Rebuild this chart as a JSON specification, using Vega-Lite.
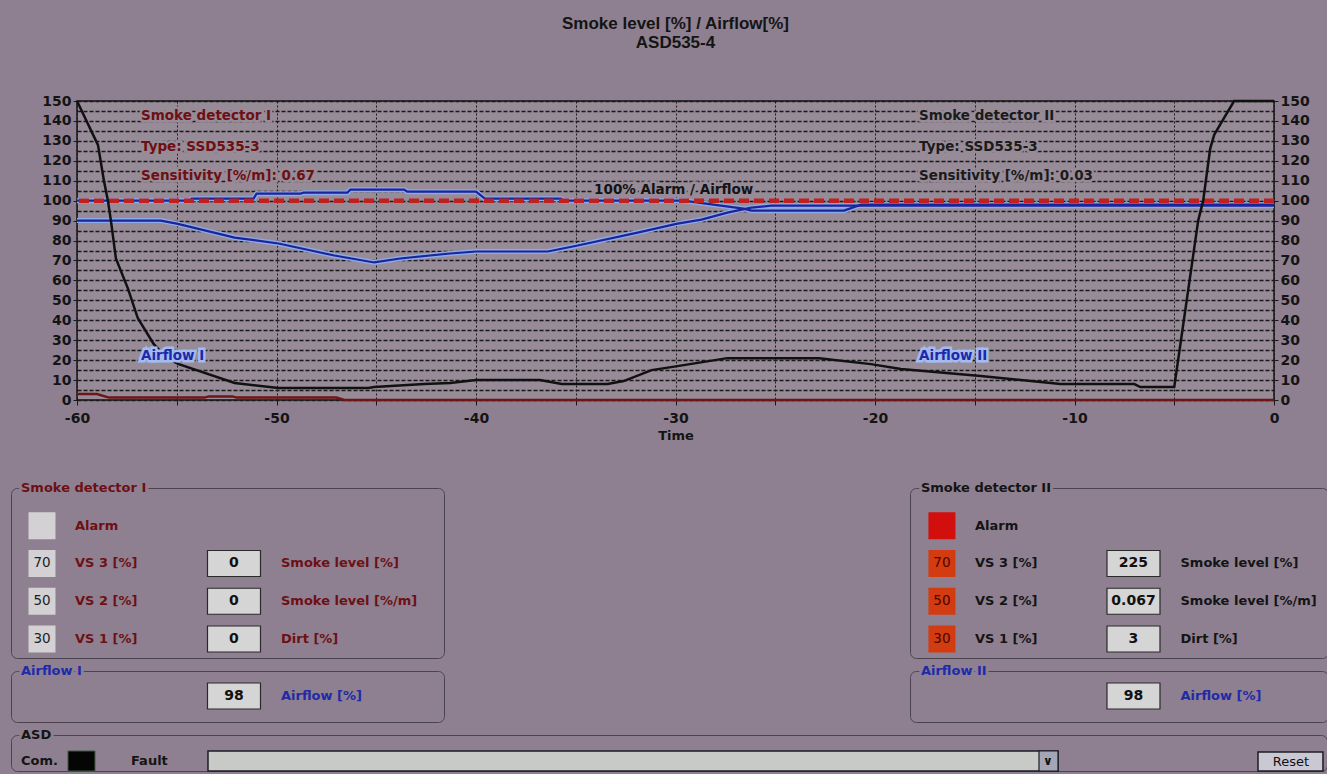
{
  "$schema": "https://vega.github.io/schema/vega-lite/v6.json",
  "background": "#8e8090",
  "padding": {"left": 10, "top": 14, "right": 0, "bottom": 0},
  "config": {"font": "DejaVu Sans", "view": {"stroke": null}},
  "datasets": {
    "lines": [
      {"series": "Airflow II", "Time": -60, "Value": 100},
      {"series": "Airflow II", "Time": -54.35, "Value": 100},
      {"series": "Airflow II", "Time": -54.25, "Value": 101},
      {"series": "Airflow II", "Time": -51.15, "Value": 101},
      {"series": "Airflow II", "Time": -51.0, "Value": 103.5},
      {"series": "Airflow II", "Time": -48.8, "Value": 103.5},
      {"series": "Airflow II", "Time": -48.65, "Value": 104},
      {"series": "Airflow II", "Time": -46.45, "Value": 104},
      {"series": "Airflow II", "Time": -46.3, "Value": 105.5},
      {"series": "Airflow II", "Time": -43.6, "Value": 105.5},
      {"series": "Airflow II", "Time": -43.45, "Value": 104.5},
      {"series": "Airflow II", "Time": -40.0, "Value": 104.5},
      {"series": "Airflow II", "Time": -39.55, "Value": 101},
      {"series": "Airflow II", "Time": -35.75, "Value": 101},
      {"series": "Airflow II", "Time": -35.6, "Value": 100},
      {"series": "Airflow II", "Time": -29.6, "Value": 100},
      {"series": "Airflow II", "Time": -26.6, "Value": 96},
      {"series": "Airflow II", "Time": -26.2, "Value": 95},
      {"series": "Airflow II", "Time": -21.55, "Value": 95},
      {"series": "Airflow II", "Time": -20.7, "Value": 98},
      {"series": "Airflow II", "Time": 0, "Value": 98},
      {"series": "Airflow I", "Time": -60, "Value": 90},
      {"series": "Airflow I", "Time": -55.8, "Value": 90},
      {"series": "Airflow I", "Time": -55.0, "Value": 88.5},
      {"series": "Airflow I", "Time": -52.1, "Value": 81.5},
      {"series": "Airflow I", "Time": -49.9, "Value": 78.5},
      {"series": "Airflow I", "Time": -47.1, "Value": 72.5},
      {"series": "Airflow I", "Time": -45.1, "Value": 69},
      {"series": "Airflow I", "Time": -43.8, "Value": 71},
      {"series": "Airflow I", "Time": -41.3, "Value": 73.5},
      {"series": "Airflow I", "Time": -40.0, "Value": 74.5},
      {"series": "Airflow I", "Time": -36.4, "Value": 74.5},
      {"series": "Airflow I", "Time": -34.9, "Value": 77.5},
      {"series": "Airflow I", "Time": -31.9, "Value": 84},
      {"series": "Airflow I", "Time": -29.9, "Value": 88.5},
      {"series": "Airflow I", "Time": -28.7, "Value": 90.5},
      {"series": "Airflow I", "Time": -27.4, "Value": 94},
      {"series": "Airflow I", "Time": -26.2, "Value": 96.5},
      {"series": "Airflow I", "Time": -25.2, "Value": 97.5},
      {"series": "Airflow I", "Time": 0, "Value": 97.5},
      {"series": "Smoke I", "Time": -60, "Value": 3},
      {"series": "Smoke I", "Time": -59.0, "Value": 3},
      {"series": "Smoke I", "Time": -58.4, "Value": 1.2},
      {"series": "Smoke I", "Time": -53.6, "Value": 1.2},
      {"series": "Smoke I", "Time": -53.4, "Value": 1.8},
      {"series": "Smoke I", "Time": -52.2, "Value": 1.8},
      {"series": "Smoke I", "Time": -52.0, "Value": 1.2},
      {"series": "Smoke I", "Time": -47.0, "Value": 1.2},
      {"series": "Smoke I", "Time": -46.6, "Value": 0},
      {"series": "Smoke I", "Time": 0, "Value": 0},
      {"series": "Smoke II", "Time": -60, "Value": 150},
      {"series": "Smoke II", "Time": -58.95, "Value": 128},
      {"series": "Smoke II", "Time": -58.65, "Value": 110},
      {"series": "Smoke II", "Time": -58.45, "Value": 100},
      {"series": "Smoke II", "Time": -58.3, "Value": 90},
      {"series": "Smoke II", "Time": -58.05, "Value": 71},
      {"series": "Smoke II", "Time": -57.45, "Value": 56},
      {"series": "Smoke II", "Time": -56.95, "Value": 41},
      {"series": "Smoke II", "Time": -56.15, "Value": 28},
      {"series": "Smoke II", "Time": -55.5, "Value": 21},
      {"series": "Smoke II", "Time": -54.9, "Value": 18},
      {"series": "Smoke II", "Time": -52.1, "Value": 8.5},
      {"series": "Smoke II", "Time": -49.9, "Value": 6},
      {"series": "Smoke II", "Time": -45.4, "Value": 6},
      {"series": "Smoke II", "Time": -45.1, "Value": 6.5},
      {"series": "Smoke II", "Time": -42.6, "Value": 8},
      {"series": "Smoke II", "Time": -41.3, "Value": 8.5},
      {"series": "Smoke II", "Time": -40.0, "Value": 10},
      {"series": "Smoke II", "Time": -36.8, "Value": 10},
      {"series": "Smoke II", "Time": -35.7, "Value": 8},
      {"series": "Smoke II", "Time": -33.4, "Value": 8},
      {"series": "Smoke II", "Time": -32.6, "Value": 9.5},
      {"series": "Smoke II", "Time": -31.2, "Value": 15},
      {"series": "Smoke II", "Time": -29.9, "Value": 17},
      {"series": "Smoke II", "Time": -27.4, "Value": 21},
      {"series": "Smoke II", "Time": -22.8, "Value": 21},
      {"series": "Smoke II", "Time": -20.2, "Value": 18},
      {"series": "Smoke II", "Time": -18.7, "Value": 15.5},
      {"series": "Smoke II", "Time": -17.7, "Value": 14.7},
      {"series": "Smoke II", "Time": -14.7, "Value": 12},
      {"series": "Smoke II", "Time": -10.7, "Value": 8},
      {"series": "Smoke II", "Time": -7.0, "Value": 8},
      {"series": "Smoke II", "Time": -6.7, "Value": 6.5},
      {"series": "Smoke II", "Time": -5.0, "Value": 6.5},
      {"series": "Smoke II", "Time": -3.8, "Value": 90},
      {"series": "Smoke II", "Time": -3.55, "Value": 100},
      {"series": "Smoke II", "Time": -3.2, "Value": 126},
      {"series": "Smoke II", "Time": -3.0, "Value": 133},
      {"series": "Smoke II", "Time": -2.65, "Value": 139},
      {"series": "Smoke II", "Time": -2.0, "Value": 150},
      {"series": "Smoke II", "Time": 0, "Value": 150}
    ],
    "notes": [
      {"text": "Smoke detector I", "Time": -56.79, "Value": 142.5, "group": "d1"},
      {"text": "Type: SSD535-3", "Time": -56.79, "Value": 127, "group": "d1"},
      {"text": "Sensitivity [%/m]: 0.67", "Time": -56.79, "Value": 112.6, "group": "d1"},
      {"text": "Smoke detector II", "Time": -17.79, "Value": 142.5, "group": "d2"},
      {"text": "Type: SSD535-3", "Time": -17.79, "Value": 127, "group": "d2"},
      {"text": "Sensitivity [%/m]: 0.03", "Time": -17.79, "Value": 112.6, "group": "d2"},
      {"text": "100% Alarm / Airflow", "Time": -34.08, "Value": 105.3, "group": "alarm"},
      {"text": "Airflow I", "Time": -56.79, "Value": 22, "group": "air"},
      {"text": "Airflow II", "Time": -17.79, "Value": 22, "group": "air"}
    ],
    "det": [
      {"panel": "d1", "row": "title", "label": "Smoke detector I"},
      {"panel": "d1", "row": "Alarm", "label": "Alarm", "state": "idle"},
      {"panel": "d1", "row": "VS 3", "label": "VS 3 [%]", "level": "70", "state": "idle", "reading": "0", "unit": "Smoke level [%]"},
      {"panel": "d1", "row": "VS 2", "label": "VS 2 [%]", "level": "50", "state": "idle", "reading": "0", "unit": "Smoke level [%/m]"},
      {"panel": "d1", "row": "VS 1", "label": "VS 1 [%]", "level": "30", "state": "idle", "reading": "0", "unit": "Dirt [%]"},
      {"panel": "d2", "row": "title", "label": "Smoke detector II"},
      {"panel": "d2", "row": "Alarm", "label": "Alarm", "state": "alarm"},
      {"panel": "d2", "row": "VS 3", "label": "VS 3 [%]", "level": "70", "state": "triggered", "reading": "225", "unit": "Smoke level [%]"},
      {"panel": "d2", "row": "VS 2", "label": "VS 2 [%]", "level": "50", "state": "triggered", "reading": "0.067", "unit": "Smoke level [%/m]"},
      {"panel": "d2", "row": "VS 1", "label": "VS 1 [%]", "level": "30", "state": "triggered", "reading": "3", "unit": "Dirt [%]"}
    ],
    "air": [
      {"panel": "a1", "row": "title", "label": "Airflow I"},
      {"panel": "a1", "row": "Airflow", "reading": "98", "unit": "Airflow [%]"},
      {"panel": "a2", "row": "title", "label": "Airflow II"},
      {"panel": "a2", "row": "Airflow", "reading": "98", "unit": "Airflow [%]"}
    ],
    "asd": [
      {"row": "title", "kind": "title", "label": "ASD"},
      {"row": "status", "kind": "com", "label": "Com."},
      {"row": "status", "kind": "fault", "label": "Fault"},
      {"row": "status", "kind": "faultlist", "label": "∨"},
      {"row": "status", "kind": "reset", "label": "Reset"}
    ]
  },
  "spacing": 38,
  "vconcat": [
    {
      "spacing": 0,
      "hconcat": [
        {"width": 1, "height": 1, "data": {"values": [{"t": ""}]}, "mark": {"type": "text"}, "encoding": {"text": {"field": "t"}}},
        {
          "width": 1197,
          "height": 299,
          "view": {"fill": "#968b97", "stroke": "#141414", "strokeWidth": 1.5},
          "title": {"text": ["Smoke level [%] / Airflow[%]", "ASD535-4"], "font": "Liberation Sans", "fontSize": 17, "fontWeight": "bold", "color": "#141414", "lineHeight": 19, "offset": 42, "frame": "group", "anchor": "middle"},
          "resolve": {"axis": {"y": "independent"}},
          "layer": [
            {
              "data": {"name": "lines"},
              "transform": [{"filter": "datum.series === 'Airflow I' || datum.series === 'Airflow II'"}],
              "mark": {"type": "line", "color": "#8aabe8", "strokeWidth": 5},
              "encoding": {
                "x": {"field": "Time", "type": "quantitative", "scale": {"domain": [-60, 0], "nice": false, "zero": false},
                  "axis": {"values": [-60, -55, -50, -45, -40, -35, -30, -25, -20, -15, -10, -5, 0], "labelExpr": "datum.value % 10 === 0 ? toString(datum.value) : ''", "grid": true, "gridColor": "#1a1a1a", "gridDash": [2, 2], "gridWidth": 1, "domain": false, "tickColor": "#1a1a1a", "tickSize": 5, "labelFont": "DejaVu Sans", "labelFontSize": 14, "labelFontWeight": "bold", "labelColor": "#141414", "labelPadding": 6, "labelFlush": false, "labelOverlap": false, "title": "Time", "titleFont": "DejaVu Sans", "titleFontSize": 13, "titleFontWeight": "bold", "titleColor": "#141414", "titlePadding": 4}},
                "y": {"field": "Value", "type": "quantitative", "scale": {"domain": [0, 150], "nice": false},
                  "axis": {"orient": "left", "values": [0, 5, 10, 15, 20, 25, 30, 35, 40, 45, 50, 55, 60, 65, 70, 75, 80, 85, 90, 95, 100, 105, 110, 115, 120, 125, 130, 135, 140, 145, 150], "labelExpr": "datum.value % 10 === 0 ? toString(datum.value) : ''", "grid": true, "gridColor": "#1a1a1a", "gridDash": [4, 2], "gridWidth": 1.4, "domain": false, "tickSize": 4, "tickColor": {"condition": {"test": "datum.value % 10 !== 0", "value": "transparent"}, "value": "#1a1a1a"}, "labelFont": "DejaVu Sans", "labelFontSize": 14, "labelFontWeight": "bold", "labelColor": "#141414", "labelPadding": 2, "labelOverlap": false, "title": null, "minExtent": 64}},
                "detail": {"field": "series", "type": "nominal"}
              }
            },
            {
              "data": {"name": "lines"},
              "transform": [{"filter": "datum.series === 'Airflow I' || datum.series === 'Airflow II'"}],
              "mark": {"type": "line", "color": "#1d2398", "strokeWidth": 2.2},
              "encoding": {
                "x": {"field": "Time", "type": "quantitative"},
                "y": {"field": "Value", "type": "quantitative", "axis": null},
                "detail": {"field": "series", "type": "nominal"}
              }
            },
            {
              "data": {"name": "lines"},
              "transform": [{"filter": "datum.series === 'Smoke I'"}],
              "mark": {"type": "line", "color": "#701515", "strokeWidth": 2.5},
              "encoding": {
                "x": {"field": "Time", "type": "quantitative"},
                "y": {"field": "Value", "type": "quantitative", "axis": null}
              }
            },
            {
              "data": {"values": [{"Value": 100}]},
              "mark": {"type": "rule", "color": "#c0201e", "strokeWidth": 4.5, "strokeDash": [10, 5]},
              "encoding": {
                "y": {"field": "Value", "type": "quantitative", "axis": null}
              }
            },
            {
              "data": {"name": "lines"},
              "transform": [{"filter": "datum.series === 'Smoke II'"}],
              "mark": {"type": "line", "color": "#111111", "strokeWidth": 2.5},
              "encoding": {
                "x": {"field": "Time", "type": "quantitative"},
                "y": {"field": "Value", "type": "quantitative",
                  "axis": {"orient": "right", "values": [0, 10, 20, 30, 40, 50, 60, 70, 80, 90, 100, 110, 120, 130, 140, 150], "labelExpr": "toString(datum.value)", "grid": false, "domain": false, "tickSize": 4, "tickColor": "#1a1a1a", "labelFont": "DejaVu Sans", "labelFontSize": 14, "labelFontWeight": "bold", "labelColor": "#141414", "labelPadding": 2, "labelOverlap": false, "title": null}}
              }
            },
            {
              "data": {"name": "notes"},
              "mark": {"type": "text", "align": "left", "baseline": "middle", "fontSize": 13.5, "fontWeight": "bold", "strokeWidth": 5, "fill": "#968b97"},
              "encoding": {
                "x": {"field": "Time", "type": "quantitative"},
                "y": {"field": "Value", "type": "quantitative", "axis": null},
                "text": {"field": "text"},
                "stroke": {"field": "group", "type": "nominal", "scale": {"domain": ["d1", "d2", "alarm", "air"], "range": ["#968b97", "#968b97", "#968b97", "#a3bcee"]}, "legend": null}
              }
            },
            {
              "data": {"name": "notes"},
              "mark": {"type": "text", "align": "left", "baseline": "middle", "fontSize": 13.5, "fontWeight": "bold"},
              "encoding": {
                "x": {"field": "Time", "type": "quantitative"},
                "y": {"field": "Value", "type": "quantitative", "axis": null},
                "text": {"field": "text"},
                "color": {"field": "group", "type": "nominal", "scale": {"domain": ["d1", "d2", "alarm", "air"], "range": ["#6d1014", "#1b1b1b", "#141414", "#1f27aa"]}, "legend": null}
              }
            }
          ]
        }
      ]
    },
    {
      "spacing": 5,
      "vconcat": [
        {
          "spacing": 464,
          "hconcat": [
            {
              "spacing": 5,
              "vconcat": [
                {
                  "width": 433, "height": 170,
                  "view": {"stroke": "#4b444e", "strokeWidth": 1, "cornerRadius": 6, "fill": null},
                  "data": {"name": "det"},
                  "transform": [{"filter": "datum.panel === 'd1'"}],
                  "encoding": {
                    "y": {"field": "row", "type": "nominal", "scale": {"type": "point", "domain": ["title", "Alarm", "VS 3", "VS 2", "VS 1"], "padding": 0.2517, "align": 0}, "axis": null}
                  },
                  "layer": [
                    {"transform": [{"filter": "datum.row === 'title'"}], "mark": {"type": "text", "align": "left", "dx": -21, "fontSize": 13, "fontWeight": "bold", "stroke": "#8e8090", "strokeWidth": 6, "fill": "#8e8090"},
                      "encoding": {"x": {"datum": "swatch", "type": "nominal", "scale": {"type": "point", "domain": ["swatch", "reading"], "padding": 0.6276, "align": 0.1286}, "axis": null}, "text": {"field": "label"}}},
                    {"transform": [{"filter": "datum.row === 'title'"}], "mark": {"type": "text", "align": "left", "dx": -21, "fontSize": 13, "fontWeight": "bold", "color": "#6d1014"},
                      "encoding": {"x": {"datum": "swatch", "type": "nominal", "axis": null}, "text": {"field": "label"}}},
                    {"transform": [{"filter": "datum.row !== 'title'"}], "mark": {"type": "point", "shape": "square", "size": 729, "filled": true, "opacity": 1, "color": "#d3d1d4"},
                      "encoding": {"x": {"datum": "swatch", "type": "nominal", "axis": null}}},
                    {"transform": [{"filter": "datum.level"}], "mark": {"type": "text", "fontSize": 13.5, "color": "#222222"},
                      "encoding": {"x": {"datum": "swatch", "type": "nominal", "axis": null}, "text": {"field": "level"}}},
                    {"transform": [{"filter": "datum.row !== 'title'"}], "mark": {"type": "text", "align": "left", "dx": 33, "fontSize": 13, "fontWeight": "bold", "color": "#6d1014"},
                      "encoding": {"x": {"datum": "swatch", "type": "nominal", "axis": null}, "text": {"field": "label"}}},
                    {"transform": [{"filter": "datum.reading"}], "mark": {"type": "point", "shape": "M-1,-0.49H1V0.49H-1Z", "size": 2809, "filled": true, "opacity": 1, "fill": "#d5d5d5", "stroke": "#2a2a2a", "strokeWidth": 1.2},
                      "encoding": {"x": {"datum": "reading", "type": "nominal", "axis": null}}},
                    {"transform": [{"filter": "datum.reading"}], "mark": {"type": "text", "fontSize": 14, "fontWeight": "bold", "color": "#111111"},
                      "encoding": {"x": {"datum": "reading", "type": "nominal", "axis": null}, "text": {"field": "reading"}}},
                    {"transform": [{"filter": "datum.reading"}], "mark": {"type": "text", "align": "left", "dx": 47, "fontSize": 13, "fontWeight": "bold", "color": "#6d1014"},
                      "encoding": {"x": {"datum": "reading", "type": "nominal", "axis": null}, "text": {"field": "unit"}}}
                  ]
                },
                {
                  "width": 433, "height": 51,
                  "view": {"stroke": "#4b444e", "strokeWidth": 1, "cornerRadius": 6, "fill": null},
                  "data": {"name": "air"},
                  "transform": [{"filter": "datum.panel === 'a1'"}],
                  "encoding": {
                    "y": {"field": "row", "type": "nominal", "scale": {"type": "point", "domain": ["title", "Airflow"], "padding": 0.52, "align": 0}, "axis": null}
                  },
                  "layer": [
                    {"transform": [{"filter": "datum.row === 'title'"}], "mark": {"type": "text", "align": "left", "dx": -21, "fontSize": 13, "fontWeight": "bold", "stroke": "#8e8090", "strokeWidth": 6, "fill": "#8e8090"},
                      "encoding": {"x": {"datum": "swatch", "type": "nominal", "scale": {"type": "point", "domain": ["swatch", "reading"], "padding": 0.6276, "align": 0.1286}, "axis": null}, "text": {"field": "label"}}},
                    {"transform": [{"filter": "datum.row === 'title'"}], "mark": {"type": "text", "align": "left", "dx": -21, "fontSize": 13, "fontWeight": "bold", "color": "#1f2aa8"},
                      "encoding": {"x": {"datum": "swatch", "type": "nominal", "axis": null}, "text": {"field": "label"}}},
                    {"transform": [{"filter": "datum.reading"}], "mark": {"type": "point", "shape": "M-1,-0.49H1V0.49H-1Z", "size": 2809, "filled": true, "opacity": 1, "fill": "#d5d5d5", "stroke": "#2a2a2a", "strokeWidth": 1.2},
                      "encoding": {"x": {"datum": "reading", "type": "nominal", "axis": null}}},
                    {"transform": [{"filter": "datum.reading"}], "mark": {"type": "text", "fontSize": 14, "fontWeight": "bold", "color": "#111111"},
                      "encoding": {"x": {"datum": "reading", "type": "nominal", "axis": null}, "text": {"field": "reading"}}},
                    {"transform": [{"filter": "datum.reading"}], "mark": {"type": "text", "align": "left", "dx": 47, "fontSize": 13, "fontWeight": "bold", "color": "#1f2aa8"},
                      "encoding": {"x": {"datum": "reading", "type": "nominal", "axis": null}, "text": {"field": "unit"}}}
                  ]
                }
              ]
            },
            {
              "spacing": 5,
              "vconcat": [
                {
                  "width": 418, "height": 170,
                  "view": {"stroke": "#4b444e", "strokeWidth": 1, "cornerRadius": 6, "fill": null},
                  "data": {"name": "det"},
                  "transform": [{"filter": "datum.panel === 'd2'"}],
                  "encoding": {
                    "y": {"field": "row", "type": "nominal", "scale": {"type": "point", "domain": ["title", "Alarm", "VS 3", "VS 2", "VS 1"], "padding": 0.2517, "align": 0}, "axis": null}
                  },
                  "layer": [
                    {"transform": [{"filter": "datum.row === 'title'"}], "mark": {"type": "text", "align": "left", "dx": -21, "fontSize": 13, "fontWeight": "bold", "stroke": "#8e8090", "strokeWidth": 6, "fill": "#8e8090"},
                      "encoding": {"x": {"datum": "swatch", "type": "nominal", "scale": {"type": "point", "domain": ["swatch", "reading"], "padding": 0.5911, "align": 0.141}, "axis": null}, "text": {"field": "label"}}},
                    {"transform": [{"filter": "datum.row === 'title'"}], "mark": {"type": "text", "align": "left", "dx": -21, "fontSize": 13, "fontWeight": "bold", "color": "#141414"},
                      "encoding": {"x": {"datum": "swatch", "type": "nominal", "axis": null}, "text": {"field": "label"}}},
                    {"transform": [{"filter": "datum.row !== 'title'"}], "mark": {"type": "point", "shape": "square", "size": 729, "filled": true, "opacity": 1},
                      "encoding": {"x": {"datum": "swatch", "type": "nominal", "axis": null}, "fill": {"field": "state", "type": "nominal", "scale": {"domain": ["alarm", "triggered"], "range": ["#d20f0c", "#d33b10"]}, "legend": null}}},
                    {"transform": [{"filter": "datum.level"}], "mark": {"type": "text", "fontSize": 13.5, "color": "#4a0500"},
                      "encoding": {"x": {"datum": "swatch", "type": "nominal", "axis": null}, "text": {"field": "level"}}},
                    {"transform": [{"filter": "datum.row !== 'title'"}], "mark": {"type": "text", "align": "left", "dx": 33, "fontSize": 13, "fontWeight": "bold", "color": "#141414"},
                      "encoding": {"x": {"datum": "swatch", "type": "nominal", "axis": null}, "text": {"field": "label"}}},
                    {"transform": [{"filter": "datum.reading"}], "mark": {"type": "point", "shape": "M-1,-0.49H1V0.49H-1Z", "size": 2809, "filled": true, "opacity": 1, "fill": "#d5d5d5", "stroke": "#2a2a2a", "strokeWidth": 1.2},
                      "encoding": {"x": {"datum": "reading", "type": "nominal", "axis": null}}},
                    {"transform": [{"filter": "datum.reading"}], "mark": {"type": "text", "fontSize": 14, "fontWeight": "bold", "color": "#111111"},
                      "encoding": {"x": {"datum": "reading", "type": "nominal", "axis": null}, "text": {"field": "reading"}}},
                    {"transform": [{"filter": "datum.reading"}], "mark": {"type": "text", "align": "left", "dx": 47, "fontSize": 13, "fontWeight": "bold", "color": "#141414"},
                      "encoding": {"x": {"datum": "reading", "type": "nominal", "axis": null}, "text": {"field": "unit"}}}
                  ]
                },
                {
                  "width": 418, "height": 51,
                  "view": {"stroke": "#4b444e", "strokeWidth": 1, "cornerRadius": 6, "fill": null},
                  "data": {"name": "air"},
                  "transform": [{"filter": "datum.panel === 'a2'"}],
                  "encoding": {
                    "y": {"field": "row", "type": "nominal", "scale": {"type": "point", "domain": ["title", "Airflow"], "padding": 0.52, "align": 0}, "axis": null}
                  },
                  "layer": [
                    {"transform": [{"filter": "datum.row === 'title'"}], "mark": {"type": "text", "align": "left", "dx": -21, "fontSize": 13, "fontWeight": "bold", "stroke": "#8e8090", "strokeWidth": 6, "fill": "#8e8090"},
                      "encoding": {"x": {"datum": "swatch", "type": "nominal", "scale": {"type": "point", "domain": ["swatch", "reading"], "padding": 0.5911, "align": 0.141}, "axis": null}, "text": {"field": "label"}}},
                    {"transform": [{"filter": "datum.row === 'title'"}], "mark": {"type": "text", "align": "left", "dx": -21, "fontSize": 13, "fontWeight": "bold", "color": "#1f2aa8"},
                      "encoding": {"x": {"datum": "swatch", "type": "nominal", "axis": null}, "text": {"field": "label"}}},
                    {"transform": [{"filter": "datum.reading"}], "mark": {"type": "point", "shape": "M-1,-0.49H1V0.49H-1Z", "size": 2809, "filled": true, "opacity": 1, "fill": "#d5d5d5", "stroke": "#2a2a2a", "strokeWidth": 1.2},
                      "encoding": {"x": {"datum": "reading", "type": "nominal", "axis": null}}},
                    {"transform": [{"filter": "datum.reading"}], "mark": {"type": "text", "fontSize": 14, "fontWeight": "bold", "color": "#111111"},
                      "encoding": {"x": {"datum": "reading", "type": "nominal", "axis": null}, "text": {"field": "reading"}}},
                    {"transform": [{"filter": "datum.reading"}], "mark": {"type": "text", "align": "left", "dx": 47, "fontSize": 13, "fontWeight": "bold", "color": "#1f2aa8"},
                      "encoding": {"x": {"datum": "reading", "type": "nominal", "axis": null}, "text": {"field": "unit"}}}
                  ]
                }
              ]
            }
          ]
        },
        {
          "width": 1316, "height": 36,
          "view": {"stroke": "#4b444e", "strokeWidth": 1, "cornerRadius": 6, "fill": null},
          "data": {"name": "asd"},
          "encoding": {
            "y": {"field": "row", "type": "nominal", "scale": {"type": "point", "domain": ["title", "status"], "padding": 0.1923, "align": 0}, "axis": null}
          },
          "layer": [
            {"transform": [{"filter": "datum.kind === 'title'"}], "mark": {"type": "text", "align": "left", "dx": -60.5, "fontSize": 13, "fontWeight": "bold", "stroke": "#8e8090", "strokeWidth": 6, "fill": "#8e8090"},
              "encoding": {"x": {"datum": "led", "type": "nominal", "scale": {"type": "point", "domain": ["led", "box"], "padding": 0.6931, "align": 0.0922}, "axis": null}, "text": {"field": "label"}}},
            {"transform": [{"filter": "datum.kind === 'title' || datum.kind === 'com'"}], "mark": {"type": "text", "align": "left", "dx": -60.5, "fontSize": 13, "fontWeight": "bold", "color": "#141414"},
              "encoding": {"x": {"datum": "led", "type": "nominal", "axis": null}, "text": {"field": "label"}}},
            {"transform": [{"filter": "datum.kind === 'com'"}], "mark": {"type": "point", "shape": "M-1,-0.74H1V0.74H-1Z", "size": 729, "filled": true, "opacity": 1, "fill": "#050505", "stroke": "#3d5a40", "strokeWidth": 1},
              "encoding": {"x": {"datum": "led", "type": "nominal", "axis": null}}},
            {"transform": [{"filter": "datum.kind === 'fault'"}], "mark": {"type": "text", "align": "left", "dx": 49.5, "fontSize": 13, "fontWeight": "bold", "color": "#141414"},
              "encoding": {"x": {"datum": "led", "type": "nominal", "axis": null}, "text": {"field": "label"}}},
            {"transform": [{"filter": "datum.kind === 'faultlist'"}], "mark": {"type": "point", "shape": "M-1,-0.0235H1V0.0235H-1Z", "size": 722500, "filled": true, "opacity": 1, "fill": "#c8cac8", "stroke": "#1d1d24", "strokeWidth": 1.5},
              "encoding": {"x": {"datum": "box", "type": "nominal", "axis": null}}},
            {"transform": [{"filter": "datum.kind === 'faultlist'"}], "mark": {"type": "point", "shape": "M0.9553,-0.0235H1V0.0235H0.9553Z", "size": 722500, "filled": true, "opacity": 1, "fill": "#a2a6b6", "stroke": "#1d1d24", "strokeWidth": 1.2},
              "encoding": {"x": {"datum": "box", "type": "nominal", "axis": null}}},
            {"transform": [{"filter": "datum.kind === 'faultlist'"}], "mark": {"type": "text", "dx": 415, "fontSize": 12, "fontWeight": "bold", "color": "#111111"},
              "encoding": {"x": {"datum": "box", "type": "nominal", "axis": null}, "text": {"field": "label"}}},
            {"transform": [{"filter": "datum.kind === 'reset'"}], "mark": {"type": "point", "shape": "M1.4706,-0.0212H1.6235V0.0235H1.4706Z", "size": 722500, "filled": true, "opacity": 1, "fill": "#c9c8d3", "stroke": "#1d1d24", "strokeWidth": 1.5},
              "encoding": {"x": {"datum": "box", "type": "nominal", "axis": null}}},
            {"transform": [{"filter": "datum.kind === 'reset'"}], "mark": {"type": "text", "dx": 658, "dy": 1, "fontSize": 13, "color": "#111111"},
              "encoding": {"x": {"datum": "box", "type": "nominal", "axis": null}, "text": {"field": "label"}}}
          ]
        }
      ]
    }
  ]
}
